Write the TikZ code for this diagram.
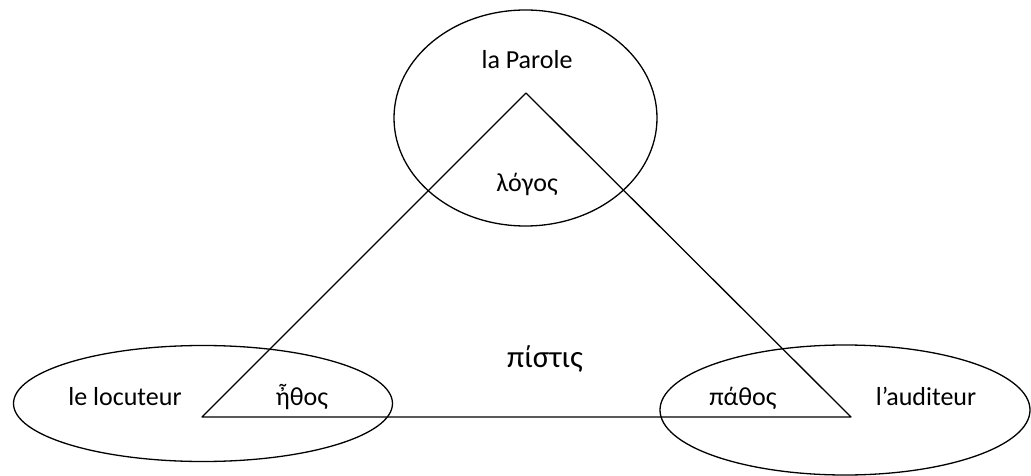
\documentclass[tikz,border=0pt]{standalone}
\usepackage{fontspec}
\setmainfont{Carlito}
\usetikzlibrary{shapes.geometric}
\begin{document}
\begin{tikzpicture}[x=1pt, y=-1pt, line join=round, line cap=round, line width=1.3pt, font=\fontsize{26}{30}\selectfont]
\useasboundingbox (0,0) rectangle (1031,476);
\tikzset{zone/.style={draw, ellipse, inner sep=0pt}}
% the three poles
\node[zone, minimum width=263pt, minimum height=216pt] (parole) at (525.5,118) {};
\node[zone, minimum width=379pt, minimum height=116pt] (locuteur) at (203,403.5) {};
\node[zone, minimum width=370pt, minimum height=130pt] (auditeur) at (845,410) {};
% the triangle
\coordinate (A) at (526,93);
\coordinate (B) at (202,417);
\coordinate (C) at (851,417);
\draw (A) -- (B) -- (C) -- cycle;
% labels
\foreach \x/\y/\n/\t in {527/69/tparole/la Parole, 527/192/tlogos/λόγος, 125/405/tlocuteur/le locuteur, 302/405/tethos/ἦθος, 743/405/tpathos/πάθος, 926/405/tauditeur/l’auditeur}
  {\node[anchor=base, inner sep=0pt] (\n) at (\x,\y) {\t};}
\node[anchor=base, inner sep=0pt, font=\fontsize{31}{36}\selectfont] (tpistis) at (545,367) {πίστις};
\end{tikzpicture}
\end{document}
